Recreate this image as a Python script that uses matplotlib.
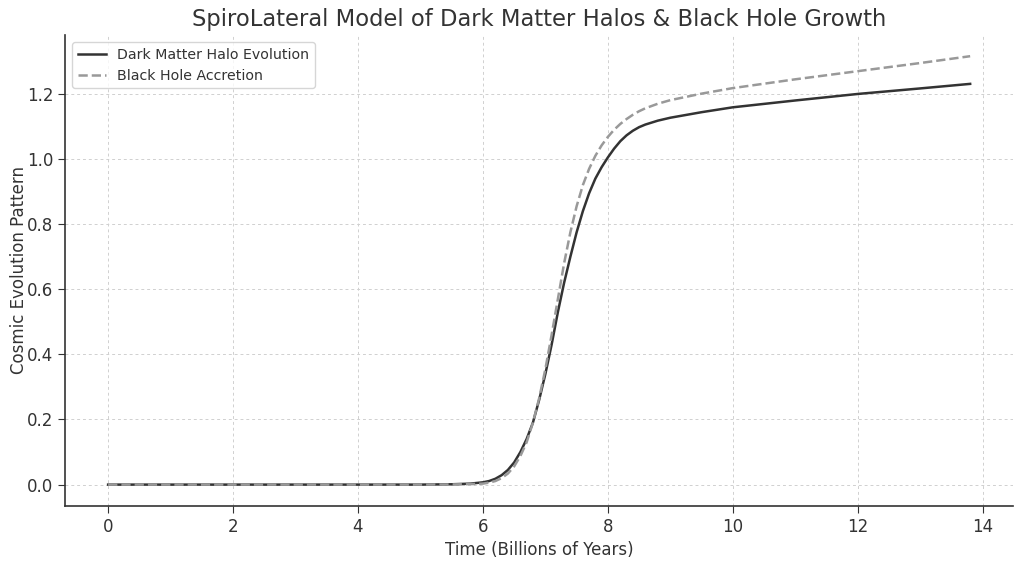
import matplotlib.pyplot as plt

# values
time_halo = [0, 1, 2, 3, 4, 5, 5.5, 5.8, 6.0, 6.1, 6.2, 6.3, 6.4, 6.5, 6.6, 6.7, 6.8, 6.9,
             7.0, 7.1, 7.2, 7.3, 7.4, 7.5, 7.6, 7.7, 7.8, 7.9, 8.0, 8.1, 8.2, 8.3, 8.4,
             8.5, 8.6, 8.8, 9.0, 9.5, 10, 11, 12, 13, 13.8]
halo = [0, 0, 0, 0, 0, 0, 0.001, 0.003, 0.007, 0.011, 0.018, 0.029, 0.045, 0.068, 0.10, 0.14,
        0.19, 0.26, 0.34, 0.43, 0.53, 0.62, 0.70, 0.775, 0.84, 0.895, 0.94, 0.975, 1.005,
        1.032, 1.055, 1.073, 1.087, 1.098, 1.106, 1.118, 1.127, 1.144, 1.159, 1.18, 1.20,
        1.217, 1.231]

time_bh = [0, 1, 2, 3, 4, 5, 5.5, 5.8, 6.0, 6.1, 6.2, 6.3, 6.4, 6.5, 6.6, 6.7, 6.8, 6.9,
           7.0, 7.1, 7.2, 7.3, 7.4, 7.5, 7.6, 7.7, 7.8, 7.9, 8.0, 8.1, 8.2, 8.3, 8.4,
           8.5, 8.6, 8.8, 9.0, 9.5, 10, 11, 12, 13, 13.8]
black_hole = [0, 0, 0, 0, 0, 0, 0.0005, 0.0015, 0.003, 0.006, 0.011, 0.02, 0.034, 0.056,
              0.088, 0.13, 0.19, 0.265, 0.355, 0.46, 0.57, 0.68, 0.775, 0.855, 0.92, 0.97,
              1.01, 1.042, 1.068, 1.09, 1.108, 1.123, 1.136, 1.147, 1.156, 1.17, 1.181,
              1.201, 1.218, 1.245, 1.27, 1.295, 1.316]

TEXT = '#333333'
plt.rcParams['font.family'] = 'DejaVu Sans'

fig = plt.figure(figsize=(10.24, 5.61), dpi=100)
ax = fig.add_axes([0.0635, 0.098, 0.926, 0.840])

ax.plot(time_halo, halo, color='#333333', lw=1.8, label='Dark Matter Halo Evolution')
ax.plot(time_bh, black_hole, color='#999999', lw=1.8, ls='--', label='Black Hole Accretion')

ax.set_title('SpiroLateral Model of Dark Matter Halos & Black Hole Growth',
             fontsize=16.3, color=TEXT)
ax.set_xlabel('Time (Billions of Years)', fontsize=12, color=TEXT)
ax.set_ylabel('Cosmic Evolution Pattern', fontsize=12, color=TEXT, labelpad=-1)

ax.set_xticks(range(0, 15, 2))
ax.set_yticks([0.0, 0.2, 0.4, 0.6, 0.8, 1.0, 1.2])
ax.tick_params(labelsize=12, colors=TEXT, direction='out', length=5)
ax.grid(True, ls=(0, (3, 3)), color='#d0d0d0', lw=0.7)
ax.set_axisbelow(True)

for s in ['top', 'right']:
    ax.spines[s].set_visible(False)
for s in ['left', 'bottom']:
    ax.spines[s].set_color('#333333')
    ax.spines[s].set_linewidth(1.2)

leg = ax.legend(loc='upper left', fontsize=10.2, frameon=True, fancybox=True)
for t in leg.get_texts():
    t.set_color(TEXT)
leg.get_frame().set_edgecolor('#cccccc')

fig.savefig('out.png', dpi=100)
